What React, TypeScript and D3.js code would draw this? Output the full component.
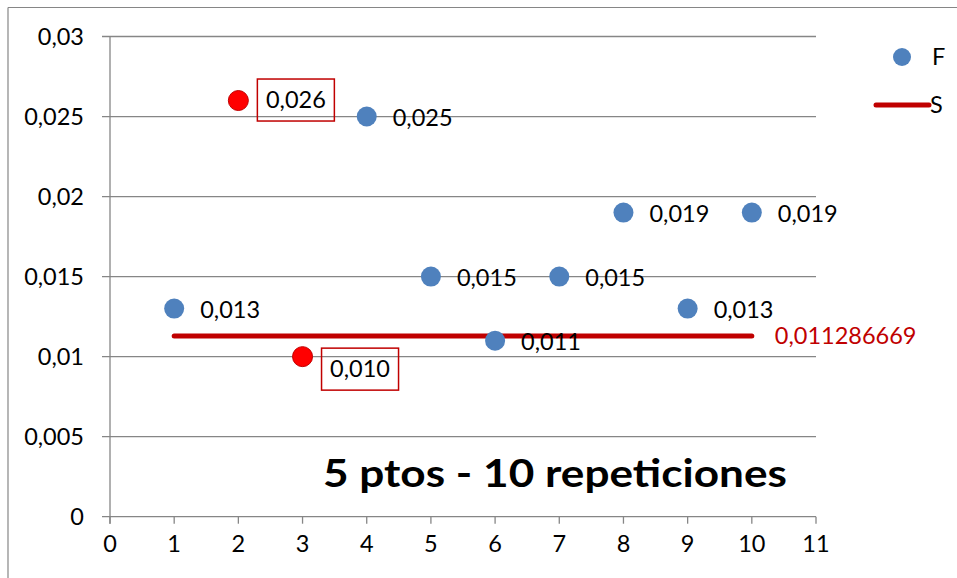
import React from "react";
import * as d3 from "d3";

const fX = [1, 4, 5, 6, 7, 8, 9, 10];
const fY = [0.013, 0.025, 0.015, 0.011, 0.015, 0.019, 0.013, 0.019];
const fLabels = ["0,013", "0,025", "0,015", "0,011", "0,015", "0,019", "0,013", "0,019"];
const outX = [2, 3];
const outY = [0.026, 0.01];
const outLabels = ["0,026", "0,010"];
const sX = [1, 10];
const sValue = 0.011286669;
const sLabel = "0,011286669";
const xTicks = [0, 1, 2, 3, 4, 5, 6, 7, 8, 9, 10, 11];
const yTicks = [0, 0.005, 0.01, 0.015, 0.02, 0.025, 0.03];
const yTickLabels = ["0", "0,005", "0,01", "0,015", "0,02", "0,025", "0,03"];
const title = "5 ptos - 10 repeticiones";
const legendNames = ["F", "S"];

const FONT = "Lato, 'Open Sans', sans-serif";
const FS = 23.5;

export default function App() {
  const W = 957, H = 578;
  const x = d3.scaleLinear().domain([0, 11]).range([110, 816]);
  const y = d3.scaleLinear().domain([0, 0.03]).range([516.7, 36.5]);
  const grid = "#868686";
  const blue = "#4F81BD";
  const red = "#FF0000";
  const dark = "#C00000";
  const line = d3.line<number>().x((d) => x(d)).y(() => y(sValue));

  return (
    <svg width={W} height={H} style={{ position: "absolute", left: 0, top: 0 }} fontFamily={FONT}>
      <rect x={0} y={0} width={W} height={H} fill="#fff" />
      {/* frame */}
      <line x1={8} y1={7.5} x2={W} y2={7.5} stroke={grid} strokeWidth={1.2} />
      <line x1={8} y1={7.5} x2={8} y2={H} stroke={grid} strokeWidth={1.2} />
      {/* grid */}
      {yTicks.map((t, i) => (
        <g key={"y" + i}>
          <line x1={102} x2={816} y1={y(t)} y2={y(t)} stroke={grid} strokeWidth={1.3} />
          <text x={84} y={y(t)} dy="0.35em" textAnchor="end" fontSize={FS} fill="#000">
            {yTickLabels[i]}
          </text>
        </g>
      ))}
      <line x1={x(0)} x2={x(0)} y1={y(0.03)} y2={y(0) + 7} stroke={grid} strokeWidth={1.3} />
      {xTicks.map((t, i) => (
        <g key={"x" + i}>
          <line x1={x(t)} x2={x(t)} y1={y(0)} y2={y(0) + 7} stroke={grid} strokeWidth={1.3} />
          <text x={x(t)} y={552} textAnchor="middle" fontSize={FS} fill="#000">
            {t}
          </text>
        </g>
      ))}
      {/* S line */}
      <path d={line(sX) || ""} stroke={dark} strokeWidth={5} strokeLinecap="round" fill="none" />
      <text x={x(10) + 23} y={y(sValue)} dy="0.35em" fontSize={FS} fill={dark}>
        {sLabel}
      </text>
      {/* F points */}
      {fX.map((v, i) => (
        <g key={"f" + i}>
          <circle cx={x(v)} cy={y(fY[i])} r={10} fill={blue} />
          <text x={x(v) + 26} y={y(fY[i]) + 1} dy="0.35em" fontSize={FS} fill="#000">
            {fLabels[i]}
          </text>
        </g>
      ))}
      {/* outliers */}
      {outX.map((v, i) => {
        const cx = x(v), cy = y(outY[i]);
        const bx = cx + 19;
        const by = i === 0 ? cy - 21.5 : cy - 8.5;
        return (
          <g key={"o" + i}>
            <circle cx={cx} cy={cy} r={10} fill={red} stroke={dark} strokeWidth={1} />
            <rect x={bx} y={by} width={77} height={42} fill="none" stroke={dark} strokeWidth={1.5} />
            <text x={bx + 38.5} y={by + 21} dy="0.35em" textAnchor="middle" fontSize={FS} fill="#000">
              {outLabels[i]}
            </text>
          </g>
        );
      })}
      {/* legend */}
      <circle cx={902} cy={57} r={9} fill={blue} />
      <text x={932} y={57} dy="0.35em" fontSize={FS} fill="#000">{legendNames[0]}</text>
      <line x1={876} x2={929} y1={105} y2={105} stroke={dark} strokeWidth={5} strokeLinecap="round" />
      <text x={930} y={105} dy="0.35em" fontSize={FS} fill="#000">{legendNames[1]}</text>
      {/* title */}
      <text x={323} y={487} fontSize={39} fontWeight="bold" fill="#000" textLength={464} lengthAdjust="spacingAndGlyphs">
        {title}
      </text>
    </svg>
  );
}
